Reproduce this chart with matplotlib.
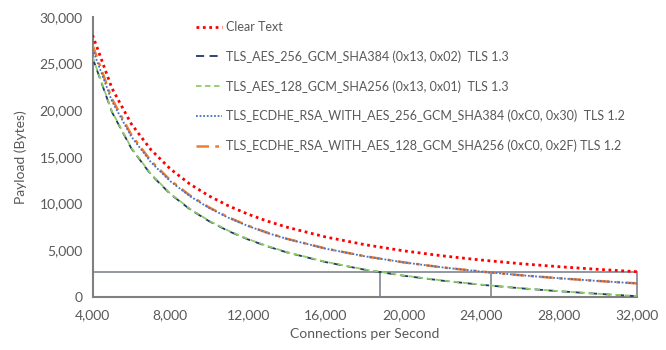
import matplotlib
matplotlib.use("Agg")
import matplotlib.pyplot as plt
from matplotlib.ticker import FuncFormatter, MultipleLocator

# ---- data ----
cps = [4000, 5000, 6000, 7000, 8000, 9000, 10000, 11000, 12000, 13000, 14000,
       16000, 18000, 20000, 22000, 24000, 26000, 28000, 30000, 32000]

clear_text = [28040, 22330, 18500, 15760, 13690, 12080, 10790, 9725, 8840, 8090, 7445,
              6395, 5575, 4915, 4375, 3925, 3540, 3213, 2929, 2680]
aes256_13 = [25620, 19780, 15880, 13095, 11005, 9380, 8082, 7020, 6135, 5388, 4746,
             3704, 2893, 2246, 1716, 1276, 905, 584, 308, 55]
aes128_13 = [25700, 19843, 15937, 13148, 11055, 9428, 8126, 7061, 6173, 5422, 4778,
             3732, 2918, 2268, 1735, 1291, 916, 594, 315, 70]
ecdhe256_12 = [26550, 20950, 17150, 14420, 12370, 10780, 9500, 8450, 7570, 6825, 6185,
               5145, 4330, 3678, 3140, 2690, 2305, 1975, 1685, 1420]
ecdhe128_12 = [26970, 21200, 17330, 14560, 12480, 10860, 9560, 8495, 7605, 6850, 6205,
               5155, 4335, 3680, 3140, 2690, 2305, 1975, 1685, 1430]

threshold = 2614
crossings = [18785, 24477, 32000]

labels = [
    "Clear Text",
    "TLS_AES_256_GCM_SHA384 (0x13, 0x02)  TLS 1.3",
    "TLS_AES_128_GCM_SHA256 (0x13, 0x01)  TLS 1.3",
    "TLS_ECDHE_RSA_WITH_AES_256_GCM_SHA384 (0xC0, 0x30)  TLS 1.2",
    "TLS_ECDHE_RSA_WITH_AES_128_GCM_SHA256 (0xC0, 0x2F) TLS 1.2",
]
x_ticks = [4000, 8000, 12000, 16000, 20000, 24000, 28000, 32000]

# ---- figure ----
plt.rcParams['font.family'] = ['Lato', 'DejaVu Sans']
txt = '#595959'
fig = plt.figure(figsize=(6.66, 3.5), dpi=100)
ax = fig.add_axes([92.5 / 666, 1 - 296.7 / 350, (637 - 92.5) / 666, 280 / 350])

grid_c = '#8a8f99'
ax.plot([cps[0], cps[-1]], [threshold, threshold], color=grid_c, lw=1.3, zorder=1)
for cx in crossings:
    ax.plot([cx, cx], [0, threshold], color=grid_c, lw=1.3, zorder=1, clip_on=False)

l1, = ax.plot(cps, clear_text, color='#ff0000', lw=2.0, linestyle=(0, (1, 1.3)), zorder=5)
l2, = ax.plot(cps, aes256_13, color='#1f3864', lw=1.3, linestyle=(0, (4.5, 3)), zorder=3)
l3, = ax.plot(cps, aes128_13, color='#8fca6a', lw=1.3, linestyle=(0, (3, 2)), zorder=4)
l4, = ax.plot(cps, ecdhe256_12, color='#4472c4', lw=1.3, linestyle=(0, (1, 1)), zorder=4)
l5, = ax.plot(cps, ecdhe128_12, color='#ed7d31', lw=1.8, linestyle=(0, (5, 2.5, 1.5, 2.5)), zorder=3)

ax.set_xlim(4000, 32000)
ax.set_ylim(0, 30000)
ax.set_xticks(x_ticks)
ax.yaxis.set_major_locator(MultipleLocator(5000))
fmt = FuncFormatter(lambda v, p: f"{int(v):,}")
ax.xaxis.set_major_formatter(fmt)
ax.yaxis.set_major_formatter(fmt)
ax.tick_params(axis='both', length=0, labelsize=10, colors=txt)
ax.tick_params(axis='x', pad=9)
ax.tick_params(axis='y', pad=7)
for s in ['top', 'right']:
    ax.spines[s].set_visible(False)
for s in ['left', 'bottom']:
    ax.spines[s].set_color('#808080')
    ax.spines[s].set_linewidth(1.5)

ax.set_xlabel("Connections per Second", fontsize=10, color=txt, labelpad=5)
ax.set_ylabel("Payload (Bytes)", fontsize=10, color=txt, labelpad=9)

leg = ax.legend([l1, l2, l3, l4, l5], labels, loc='upper left',
                bbox_to_anchor=(196 / 666, 1 - 21 / 350), bbox_transform=fig.transFigure,
                frameon=False, fontsize=9, handlelength=2.1, handletextpad=0.3,
                labelspacing=1.38, borderpad=0, borderaxespad=0)
for t in leg.get_texts():
    t.set_color(txt)

fig.savefig("out.png", dpi=100)
